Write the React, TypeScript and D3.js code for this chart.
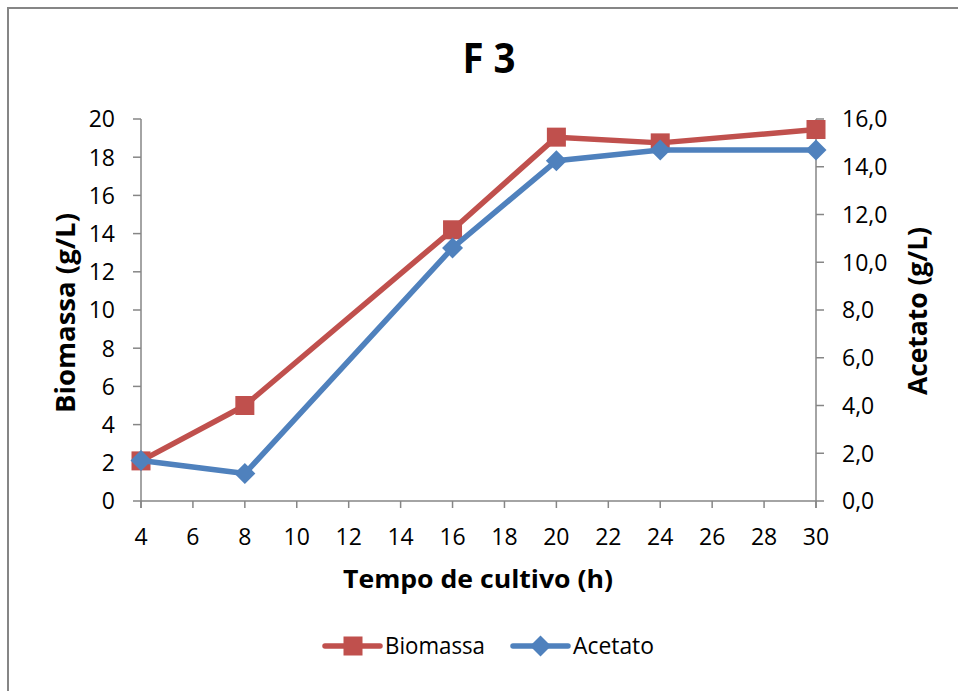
import React from 'react';
import * as d3 from 'd3';

const hours = [4, 8, 16, 20, 24, 30];
const biomassa = [2.1, 5.0, 14.2, 19.05, 18.75, 19.45];
const acetato = [1.7, 1.15, 10.6, 14.25, 14.7, 14.7];
const xTicks = d3.range(4, 31, 2);
const leftTicks = d3.range(0, 21, 2);
const rightTicks = d3.range(0, 17, 2);
const seriesNames = ['Biomassa', 'Acetato'];

const W = 958;
const H = 691;
const RED = '#C0504D';
const BLUE = '#4F81BD';
const AXIS = '#868686';
const FONT = '"Open Sans", "Noto Sans", sans-serif';

const App: React.FC = () => {
  const x = d3.scaleLinear().domain([4, 30]).range([141, 816]);
  const yL = d3.scaleLinear().domain([0, 20]).range([501, 119]);
  const yR = d3.scaleLinear().domain([0, 16]).range([501, 119]);

  const lineL = d3.line<number>().x((_, i) => x(hours[i])).y((d) => yL(d));
  const lineR = d3.line<number>().x((_, i) => x(hours[i])).y((d) => yR(d));

  const sq = 19;
  const dm = 10.5;
  const diamond = (cx: number, cy: number) =>
    `M${cx},${cy - dm}L${cx + dm},${cy}L${cx},${cy + dm}L${cx - dm},${cy}Z`;

  return (
    <svg width={W} height={H} style={{ position: 'absolute', left: 0, top: 0, background: '#fff' }} fontFamily={FONT}>
      <rect x={8} y={8} width={W + 20} height={H + 20} fill="#fff" stroke={AXIS} strokeWidth={2} />

      <text x={489} y={73} textAnchor="middle" fontSize={41} fontWeight="bold" textLength={53} lengthAdjust="spacingAndGlyphs">F 3</text>

      {/* eixo x */}
      <line x1={x(4)} x2={x(30)} y1={501} y2={501} stroke={AXIS} strokeWidth={1.5} />
      {xTicks.map((t) => (
        <g key={`x${t}`}>
          <line x1={x(t)} x2={x(t)} y1={501} y2={508} stroke={AXIS} strokeWidth={1.5} />
          <text x={x(t)} y={545} textAnchor="middle" fontSize={23}>{t}</text>
        </g>
      ))}

      {/* eixo esquerdo */}
      <line x1={141} x2={141} y1={119} y2={508} stroke={AXIS} strokeWidth={1.5} />
      {leftTicks.map((t) => (
        <g key={`l${t}`}>
          <line x1={133} x2={141} y1={yL(t)} y2={yL(t)} stroke={AXIS} strokeWidth={1.5} />
          <text x={115} y={yL(t) + 8.3} textAnchor="end" fontSize={23}>{t}</text>
        </g>
      ))}

      {/* eixo direito */}
      <line x1={816} x2={816} y1={119} y2={508} stroke={AXIS} strokeWidth={1.5} />
      {rightTicks.map((t) => (
        <g key={`r${t}`}>
          <line x1={816} x2={824} y1={yR(t)} y2={yR(t)} stroke={AXIS} strokeWidth={1.5} />
          <text x={842} y={yR(t) + 8.3} textAnchor="start" fontSize={23}>{t.toFixed(1).replace('.', ',')}</text>
        </g>
      ))}

      <text transform="translate(75,313) rotate(-90)" textAnchor="middle" fontSize={26} fontWeight="bold" textLength={200} lengthAdjust="spacingAndGlyphs">Biomassa (g/L)</text>
      <text transform="translate(927,311) rotate(-90)" textAnchor="middle" fontSize={26} fontWeight="bold" textLength={168} lengthAdjust="spacingAndGlyphs">Acetato (g/L)</text>
      <text x={478} y={588} textAnchor="middle" fontSize={25.5} fontWeight="bold" textLength={270} lengthAdjust="spacingAndGlyphs">Tempo de cultivo (h)</text>

      <path d={lineL(biomassa) || undefined} fill="none" stroke={RED} strokeWidth={5.5} strokeLinejoin="round" />
      {biomassa.map((v, i) => (
        <rect key={`b${i}`} x={x(hours[i]) - sq / 2} y={yL(v) - sq / 2} width={sq} height={sq} fill={RED} />
      ))}

      <path d={lineR(acetato) || undefined} fill="none" stroke={BLUE} strokeWidth={5.5} strokeLinejoin="round" />
      {acetato.map((v, i) => (
        <path key={`a${i}`} d={diamond(x(hours[i]), yR(v))} fill={BLUE} />
      ))}

      {/* legenda */}
      <line x1={325} x2={380} y1={646} y2={646} stroke={RED} strokeWidth={5.5} strokeLinecap="round" />
      <rect x={353 - sq / 2} y={646 - sq / 2} width={sq} height={sq} fill={RED} />
      <text x={385} y={654} fontSize={23} textLength={100} lengthAdjust="spacingAndGlyphs">{seriesNames[0]}</text>
      <line x1={513} x2={568} y1={646} y2={646} stroke={BLUE} strokeWidth={5.5} strokeLinecap="round" />
      <path d={diamond(540.5, 646)} fill={BLUE} />
      <text x={573} y={654} fontSize={23} textLength={81} lengthAdjust="spacingAndGlyphs">{seriesNames[1]}</text>
    </svg>
  );
};

export default App;
